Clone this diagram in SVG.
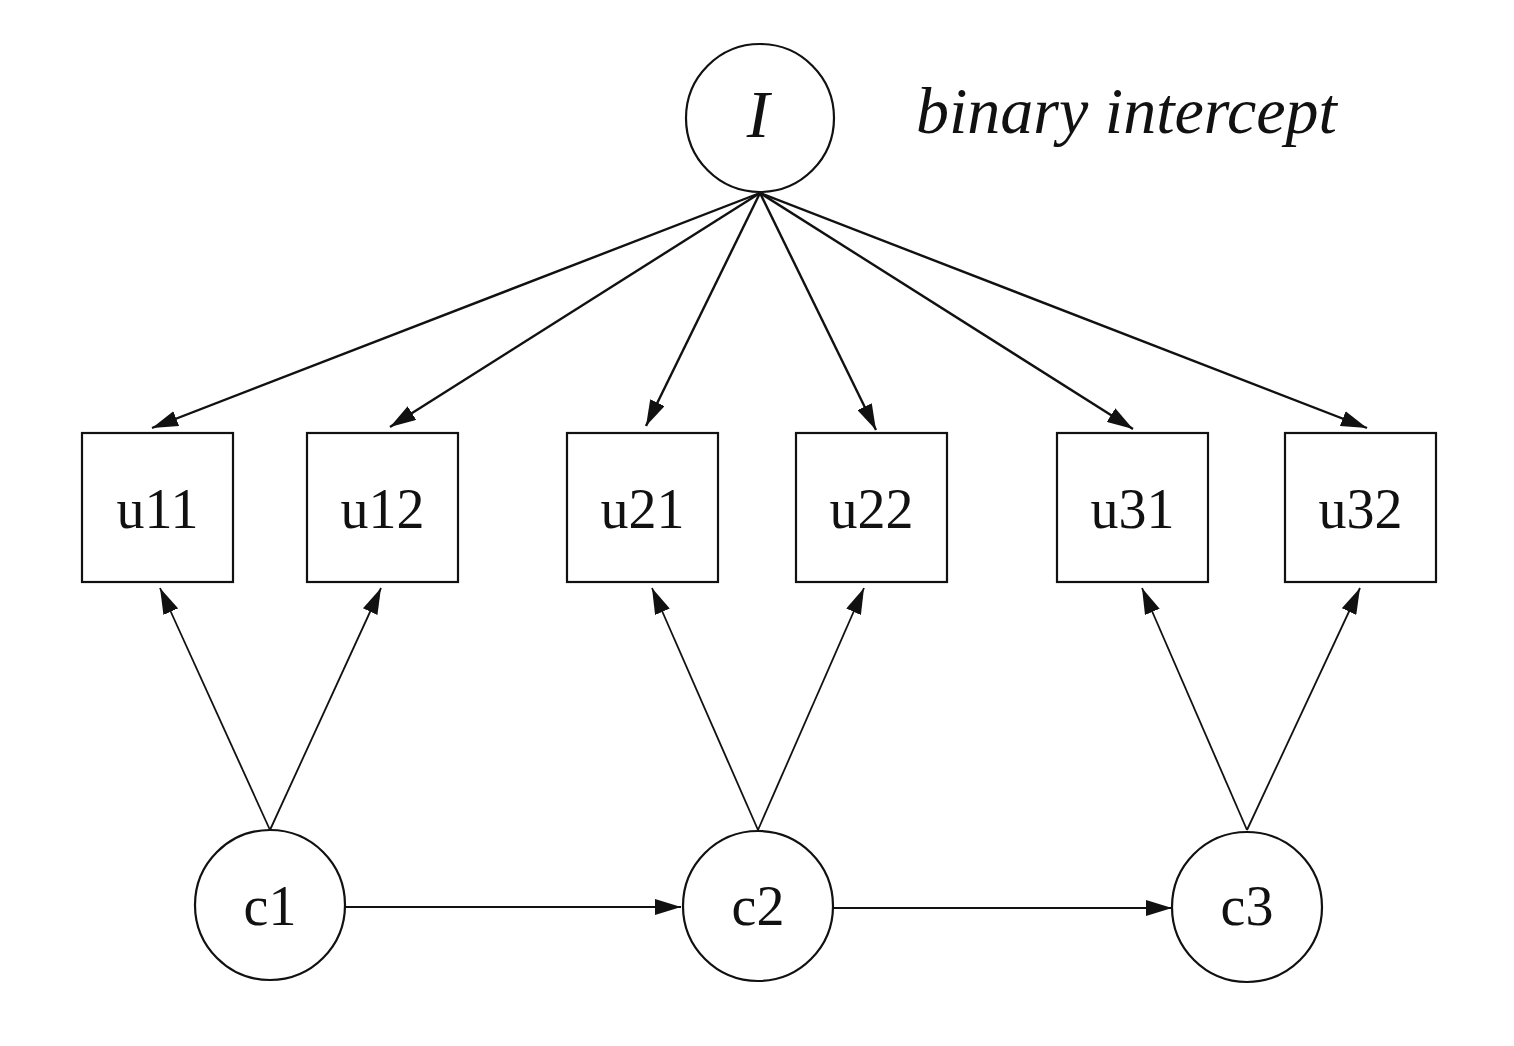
<svg xmlns="http://www.w3.org/2000/svg" width="1514" height="1046" viewBox="0 0 1514 1046">
<style>
.n{fill:#fff;stroke:#111;stroke-width:2.2}
.t{font-family:"Liberation Serif","Times New Roman",serif;font-size:56px;fill:#111;text-anchor:middle}
.it{font-style:italic}
.e{stroke:#111;stroke-width:1.8;fill:none;marker-end:url(#ah)}
.e2{stroke:#111;stroke-width:2.4;fill:none;marker-end:url(#ah)}
</style>
<defs>
<marker id="ah" viewBox="0 0 26 16" refX="26" refY="8" markerWidth="26" markerHeight="16" markerUnits="userSpaceOnUse" orient="auto">
<path d="M0,0 L26,8 L0,16 Z" fill="#111"/>
</marker>
</defs>
<rect width="1514" height="1046" fill="#fff"/>
<g id="connectors">
<line class="e2" x1="760" y1="193" x2="152" y2="428"/>
<line class="e2" x1="760" y1="193" x2="390" y2="427"/>
<line class="e2" x1="760" y1="193" x2="646" y2="426"/>
<line class="e2" x1="760" y1="193" x2="876" y2="430"/>
<line class="e2" x1="760" y1="193" x2="1133" y2="429"/>
<line class="e2" x1="760" y1="193" x2="1367" y2="428"/>
<line class="e" x1="270" y1="830" x2="160" y2="588"/>
<line class="e" x1="270" y1="830" x2="381" y2="588"/>
<line class="e" x1="758" y1="830" x2="652" y2="588"/>
<line class="e" x1="758" y1="830" x2="864" y2="588"/>
<line class="e" x1="1247" y1="830" x2="1142" y2="588"/>
<line class="e" x1="1247" y1="830" x2="1360" y2="588"/>
<line class="e" x1="345" y1="907" x2="681" y2="907"/>
<line class="e" x1="833" y1="908" x2="1172" y2="908"/>
</g>
<g id="I"><circle class="n" cx="760" cy="118" r="74"/><text class="t it" x="758" y="137" style="font-size:68px">I</text></g>
<g id="label"><text class="t it" x="916" y="133" style="font-size:66px;text-anchor:start">binary intercept</text></g>
<g id="u11"><rect class="n" x="82" y="433" width="151" height="149"/><text class="t" x="157.5" y="528">u11</text></g>
<g id="u12"><rect class="n" x="307" y="433" width="151" height="149"/><text class="t" x="382.5" y="528">u12</text></g>
<g id="u21"><rect class="n" x="567" y="433" width="151" height="149"/><text class="t" x="642.5" y="528">u21</text></g>
<g id="u22"><rect class="n" x="796" y="433" width="151" height="149"/><text class="t" x="871.5" y="528">u22</text></g>
<g id="u31"><rect class="n" x="1057" y="433" width="151" height="149"/><text class="t" x="1132.5" y="528">u31</text></g>
<g id="u32"><rect class="n" x="1285" y="433" width="151" height="149"/><text class="t" x="1360.5" y="528">u32</text></g>
<g id="c1"><circle class="n" cx="270" cy="905" r="75"/><text class="t" x="270" y="925">c1</text></g>
<g id="c2"><circle class="n" cx="758" cy="906" r="75"/><text class="t" x="758" y="925">c2</text></g>
<g id="c3"><circle class="n" cx="1247" cy="907" r="75"/><text class="t" x="1247" y="925">c3</text></g>
</svg>
